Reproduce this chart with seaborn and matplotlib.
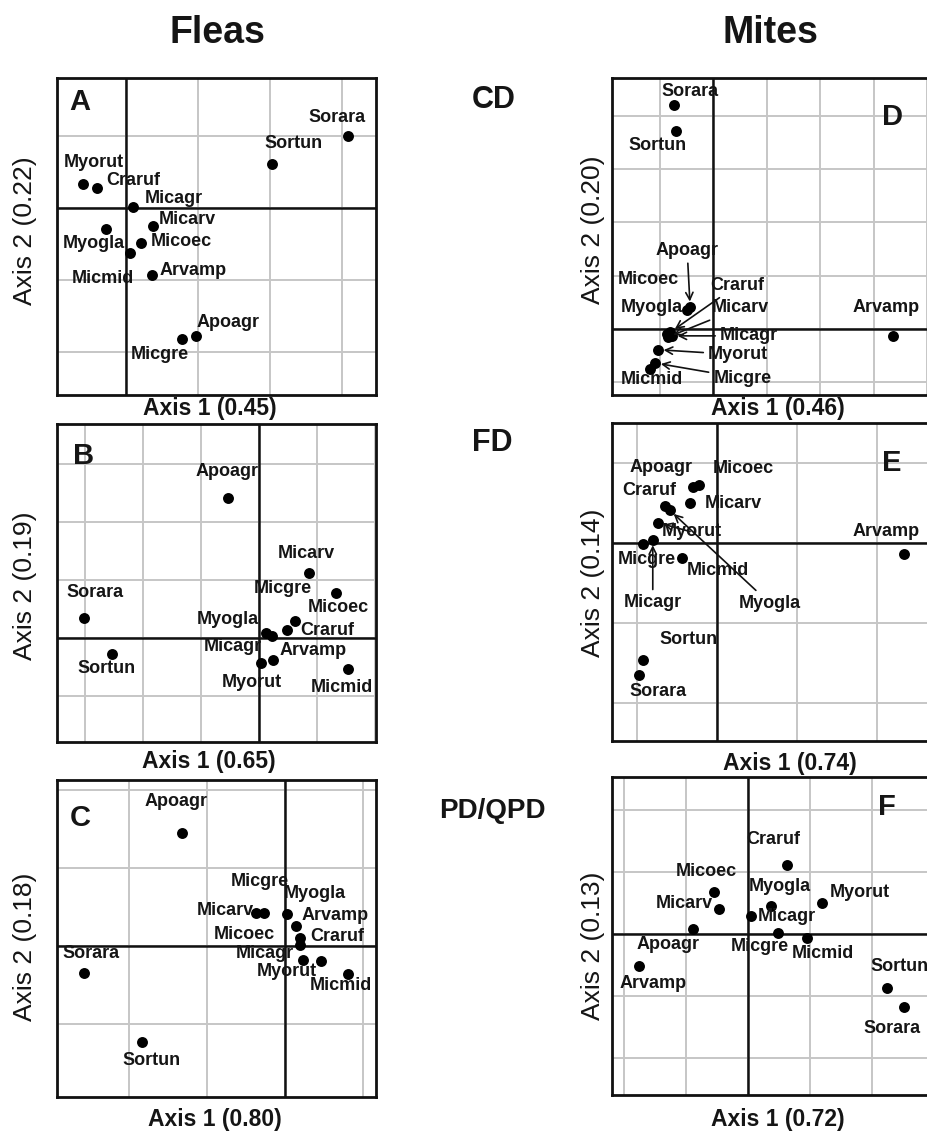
import matplotlib
matplotlib.use('Agg')
import matplotlib.pyplot as plt
import seaborn as sns
import numpy as np
import pandas as pd

# ------------------------------------------------------------------ #
# Data: ordination scores (grid unit = 1)
# ------------------------------------------------------------------ #
SPECIES = ['Sorara', 'Sortun', 'Myorut', 'Craruf', 'Micagr', 'Micarv',
           'Myogla', 'Micoec', 'Micmid', 'Arvamp', 'Apoagr', 'Micgre']

# Fleas
A_X = [3.08, 2.03, -0.60, -0.40, 0.09, 0.37, -0.28, 0.21, 0.05, 0.36, 0.97, 0.78]
A_Y = [1.01, 0.61, 0.33, 0.28, 0.02, -0.25, -0.29, -0.48, -0.63, -0.93, -1.78, -1.82]
B_X = [-3.02, -2.53, 0.03, 0.48, 0.22, 0.86, 0.13, 1.33, 1.53, 0.24, -0.53, 0.62]
B_Y = [0.35, -0.28, -0.43, 0.14, 0.04, 1.12, 0.08, 0.78, -0.54, -0.37, 2.41, 0.29]
C_X = [-2.58, -1.83, 0.46, 0.19, 0.23, -0.37, 0.03, 0.19, 0.81, 0.14, -1.32, -0.26]
C_Y = [-0.35, -1.24, -0.19, 0.10, -0.18, 0.42, 0.41, 0.01, -0.36, 0.26, 1.45, 0.42]

# Mites
D_X = [-0.73, -0.69, -1.03, -0.80, -0.77, -0.84, -0.49, -0.86, -1.18, 3.36, -0.43, -1.08]
D_Y = [4.20, 3.71, -0.39, -0.06, -0.13, -0.15, 0.36, -0.09, -0.75, -0.13, 0.41, -0.64]
E_X = [-0.97, -0.92, -0.73, -0.65, -0.80, -0.34, -0.59, -0.22, -0.44, 2.34, -0.30, -0.92]
E_Y = [-1.66, -1.46, 0.25, 0.46, 0.04, 0.50, 0.41, 0.72, -0.19, -0.14, 0.70, -0.01]
F_X = [2.52, 2.24, 1.19, 0.63, 0.05, -0.47, 0.37, -0.55, 0.95, -1.76, -0.89, 0.48]
F_Y = [-1.18, -0.87, 0.50, 1.11, 0.29, 0.40, 0.45, 0.68, -0.06, -0.52, 0.08, 0.02]

AXIS1 = {'A': 'Axis 1 (0.45)', 'B': 'Axis 1 (0.65)', 'C': 'Axis 1 (0.80)',
         'D': 'Axis 1 (0.46)', 'E': 'Axis 1 (0.74)', 'F': 'Axis 1 (0.72)'}
AXIS2 = {'A': 'Axis 2 (0.22)', 'B': 'Axis 2 (0.19)', 'C': 'Axis 2 (0.18)',
         'D': 'Axis 2 (0.20)', 'E': 'Axis 2 (0.14)', 'F': 'Axis 2 (0.13)'}

SCORES = {'A': (A_X, A_Y), 'B': (B_X, B_Y), 'C': (C_X, C_Y),
          'D': (D_X, D_Y), 'E': (E_X, E_Y), 'F': (F_X, F_Y)}

# ------------------------------------------------------------------ #
# Layout (pixels) and label placement
# ------------------------------------------------------------------ #
W, H = 928, 1133
BOXES = {'A': (57, 78, 376, 395), 'B': (57, 424, 376, 742), 'C': (57, 780, 376, 1097),
         'D': (612, 78, 931, 395), 'E': (612, 423, 931, 741), 'F': (612, 777, 931, 1095)}
LIMITS = {'A': ((-0.96, 3.47), (-2.60, 1.81)),
          'B': ((-3.48, 2.02), (-1.79, 3.69)),
          'C': ((-2.92, 1.17), (-1.94, 2.13)),
          'D': ((-1.89, 4.07), (-1.24, 4.71)),
          'E': ((-1.31, 2.68), (-2.48, 1.50)),
          'F': ((-2.19, 2.95), (-2.60, 2.53))}
LETTER_POS = {'A': (0.072, 0.924), 'B': (0.082, 0.90), 'C': (0.072, 0.88),
              'D': (0.88, 0.877), 'E': (0.878, 0.874), 'F': (0.862, 0.906)}
XLAB_POS = {'A': (0.48, -0.006), 'B': (0.477, -0.025), 'C': (0.495, -0.035),
            'D': (0.52, -0.006), 'E': (0.558, -0.035), 'F': (0.52, -0.04)}
YLAB_POS = {'A': (-0.063, 0.517), 'B': (-0.063, 0.49), 'C': (-0.063, 0.473),
            'D': (-0.022, 0.52), 'E': (-0.022, 0.497), 'F': (-0.022, 0.47)}

# label offsets in pixels (dx, dy up, arrow?)
OFFSETS = {
    'A': {'Sorara': (-11, 18), 'Sortun': (21, 21), 'Myorut': (11, 22), 'Craruf': (36, 7),
          'Micagr': (41, 8), 'Micarv': (35, 7), 'Myogla': (-12, -15), 'Micoec': (40, 1),
          'Micmid': (-27, -25), 'Arvamp': (41, 4), 'Apoagr': (32, 14), 'Micgre': (-22, -16)},
    'B': {'Sorara': (11, 25), 'Sortun': (-6, -14), 'Myorut': (-9, -19), 'Craruf': (41, 0),
          'Micagr': (-39, -11), 'Micarv': (-2, 20), 'Myogla': (-39, 14), 'Micoec': (2, -15),
          'Micmid': (-6, -18), 'Arvamp': (40, 9), 'Apoagr': (-1, 27), 'Micgre': (-12, 33)},
    'C': {'Sorara': (7, 20), 'Sortun': (10, -18), 'Myorut': (-34, -11), 'Craruf': (38, 2),
          'Micagr': (-38, 6), 'Micarv': (-31, 3), 'Myogla': (28, 20), 'Micoec': (-55, 11),
          'Micmid': (-7, -12), 'Arvamp': (39, 10), 'Apoagr': (-6, 31), 'Micgre': (-5, 32)},
    'D': {'Sorara': (16, 14), 'Sortun': (-19, -14), 'Myorut': (80, -5, True),
          'Craruf': (67, 47, True), 'Micagr': (77, 0, True), 'Micarv': (72, 29, True),
          'Myogla': (-35, 2), 'Micoec': (-19, 54), 'Micmid': (2, -11),
          'Arvamp': (-7, 28), 'Apoagr': (-3, 57, True), 'Micgre': (87, -15, True)},
    'E': {'Sorara': (19, -16), 'Sortun': (45, 20), 'Myorut': (33, -9, True),
          'Craruf': (-16, 16), 'Micagr': (0, -63, True), 'Micarv': (44, -1),
          'Myogla': (100, -93, True), 'Micoec': (44, 17), 'Micmid': (36, -12),
          'Arvamp': (-18, 23), 'Apoagr': (-32, 19), 'Micgre': (4, -16)},
    'F': {'Sorara': (-12, -22), 'Sortun': (13, 21), 'Myorut': (38, 10), 'Craruf': (-14, 26),
          'Micagr': (36, -1), 'Micarv': (-34, 6), 'Myogla': (9, 19), 'Micoec': (-7, 20),
          'Micmid': (16, -16), 'Arvamp': (14, -17), 'Apoagr': (-25, -16), 'Micgre': (-18, -14)},
}

sns.set_style('white')
plt.rcParams['font.family'] = ['Liberation Sans', 'DejaVu Sans']
TXT = '#151515'

fig = plt.figure(figsize=(W / 100, H / 100), dpi=100)


def draw_panel(key):
    x0, y0, x1, y1 = BOXES[key]
    ax = fig.add_axes([x0 / W, 1 - y1 / H, (x1 - x0) / W, (y1 - y0) / H])
    xs, ys = SCORES[key]
    df = pd.DataFrame({'species': SPECIES, 'x': xs, 'y': ys})
    (xmin, xmax), (ymin, ymax) = LIMITS[key]

    ax.set_xticks(np.arange(np.ceil(xmin), np.floor(xmax) + 1))
    ax.set_yticks(np.arange(np.ceil(ymin), np.floor(ymax) + 1))
    ax.grid(True, color='#c6c6c6', linewidth=1.4)
    ax.set_axisbelow(True)
    ax.tick_params(length=0, labelbottom=False, labelleft=False)
    ax.axhline(0, color='#111', linewidth=1.8, zorder=2)
    ax.axvline(0, color='#111', linewidth=1.8, zorder=2)

    sns.scatterplot(data=df, x='x', y='y', ax=ax, color='black', s=62,
                    linewidth=0, legend=False, zorder=5)
    ax.set_xlim(xmin, xmax)
    ax.set_ylim(ymin, ymax)
    ax.set_xlabel('')
    ax.set_ylabel('')

    for sp, px, py in zip(SPECIES, xs, ys):
        off = OFFSETS[key][sp]
        kw = {}
        if len(off) > 2:
            kw['arrowprops'] = dict(arrowstyle='->', color='#111', lw=1.2,
                                    shrinkA=1, shrinkB=4)
        ax.annotate(sp, xy=(px, py), xytext=off[:2], textcoords='offset pixels',
                    ha='center', va='center', fontsize=13, fontweight='bold',
                    color=TXT, zorder=6, **kw)

    for s in ax.spines.values():
        s.set_color('#111')
        s.set_linewidth(2)

    lx, ly = LETTER_POS[key]
    ax.text(lx, ly, key, transform=ax.transAxes, ha='center', va='center',
            fontsize=21, fontweight='bold', color=TXT, zorder=7)

    # axis titles
    xx, xy = XLAB_POS[key]
    ax.text(xx, xy, AXIS1[key], transform=ax.transAxes, ha='center', va='top',
            fontsize=16.5, fontweight='bold', color=TXT, clip_on=False)
    yx, yy = YLAB_POS[key]
    ax.text(yx, yy, AXIS2[key], transform=ax.transAxes, ha='right', va='center',
            rotation=90, fontsize=19, color=TXT, clip_on=False)
    return ax


for k in ['A', 'B', 'C', 'D', 'E', 'F']:
    draw_panel(k)

fig.text(217 / W, 1 - 43 / H, 'Fleas', ha='center', va='baseline',
         fontsize=27, fontweight='bold', color=TXT)
fig.text(770 / W, 1 - 43 / H, 'Mites', ha='center', va='baseline',
         fontsize=27, fontweight='bold', color=TXT)
fig.text(494 / W, 1 - 108 / H, 'CD', ha='center', va='baseline',
         fontsize=22, fontweight='bold', color=TXT)
fig.text(492 / W, 1 - 451 / H, 'FD', ha='center', va='baseline',
         fontsize=22, fontweight='bold', color=TXT)
fig.text(492 / W, 1 - 818 / H, 'PD/QPD', ha='center', va='baseline',
         fontsize=20, fontweight='bold', color=TXT)

fig.savefig('out.png', dpi=100)
